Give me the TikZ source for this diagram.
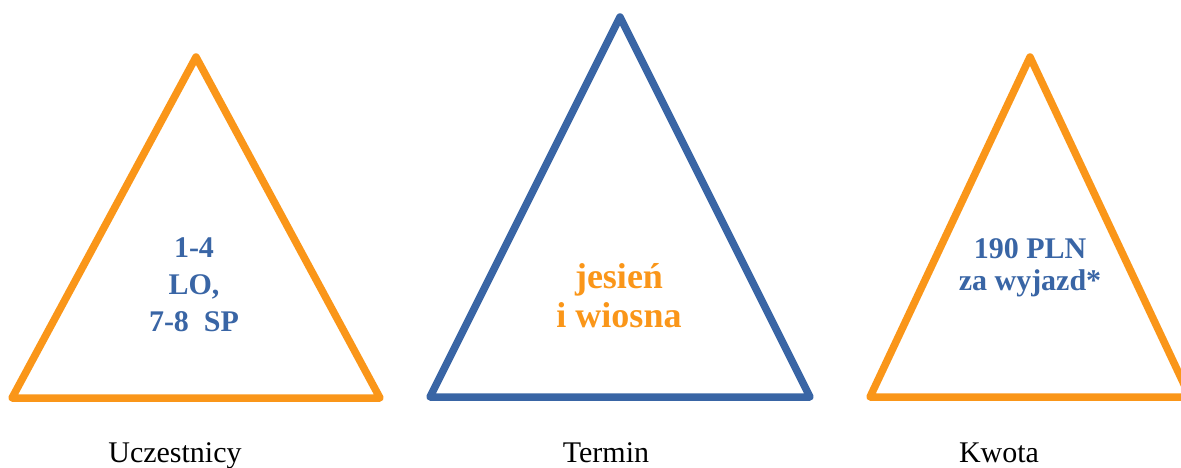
\documentclass[tikz,border=0pt]{standalone}
\usepackage{fontspec}
\setmainfont{Liberation Serif}
\definecolor{tOrange}{RGB}{250,150,25}
\definecolor{tBlue}{RGB}{57,101,165}
\begin{document}
\begin{tikzpicture}[x=1pt,y=-1pt,
  tri/.style={line width=7.5pt,line join=round,line cap=round},
  inner/.style={font=\bfseries\fontsize{30}{37}\selectfont,align=center,inner sep=0pt},
  lab/.style={font=\fontsize{30}{36}\selectfont,anchor=base,inner sep=0pt}]
\useasboundingbox (0,0) rectangle (1181,467);
% triangles
\draw[tri,tOrange] (196,57) -- (12,398) -- (380,398) -- cycle;
\draw[tri,tBlue] (620,17) -- (430,397) -- (810,397) -- cycle;
\draw[tri,tOrange] (1030,57) -- (870,397) -- (1190,397) -- cycle;
% texts
\node[inner,text=tBlue,anchor=base] (t1) at (194,331) {1-4\\LO,\\7-8~~SP};
\node[inner,text=tOrange,anchor=base,font=\bfseries\fontsize{36}{39}\selectfont] (t2) at (619,327) {jesień\\i wiosna};
\node[inner,text=tBlue,anchor=base,font=\bfseries\fontsize{30}{32}\selectfont] (t3) at (1030,290) {190 PLN\\za wyjazd*};
% labels
\node[lab] (l1) at (175,462) {Uczestnicy};
\node[lab] (l2) at (606,462) {Termin};
\node[lab] (l3) at (999,462) {Kwota};
\end{tikzpicture}
\end{document}
